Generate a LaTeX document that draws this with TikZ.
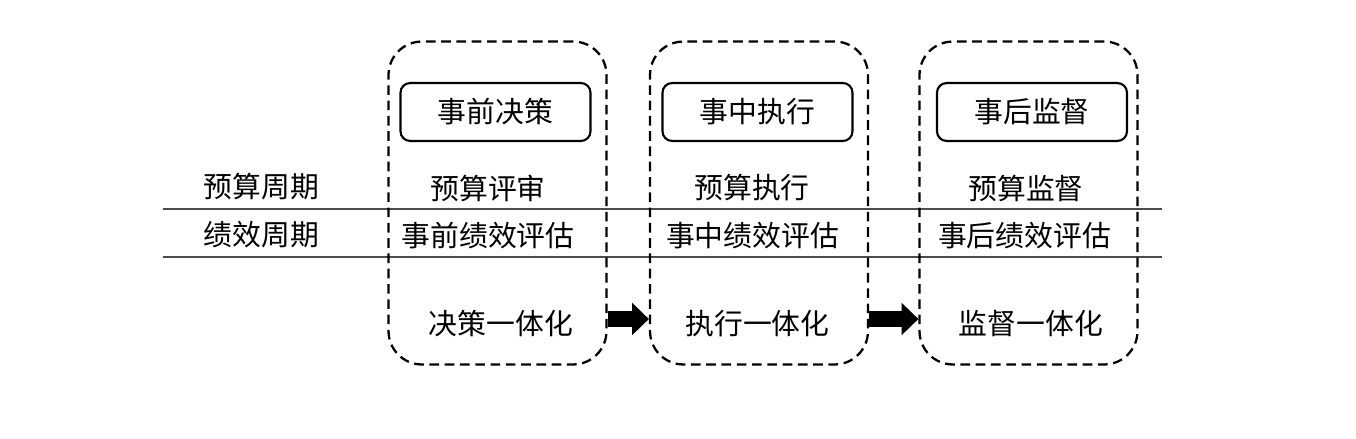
\documentclass[tikz,border=0pt]{standalone}
\usepackage{fontspec}
\newfontfamily\cjk{Noto Sans CJK SC}
\usetikzlibrary{arrows.meta}

\tikzset{
    txt/.style={font=\cjk\fontsize{16.4}{20}\selectfont, inner sep=0pt},
    stagebox/.style={draw, dash pattern=on 5.5pt off 3.2pt, line width=1.3pt,
        rounded corners=19pt, minimum width=4.36cm, minimum height=6.46cm},
    titlebox/.style={txt, draw, line width=1.2pt, rounded corners=5.5pt,
        minimum width=3.8cm, minimum height=1.16cm},
    bigarrow/.style={line width=9.6pt, -{Triangle[length=9.6pt, width=18pt]}}
}

\begin{document}
\begin{tikzpicture}[x=0.02cm, y=-0.02cm]
        \useasboundingbox (0,0) rectangle (1356,439);
        % the two cycles
        \draw[black!70, line width=1pt] (163,209) -- (1162,209);
        \draw[black!70, line width=1pt] (163,257) -- (1162,257);
        \node[txt] (ys) at (261.5,187) {预算周期};
        \node[txt] (jx) at (261.5,235) {绩效周期};
        % stages
        \node[stagebox] (k1) at (497.5,203) {};
        \node[stagebox] (k2) at (759,203) {};
        \node[stagebox] (k3) at (1028.5,203) {};
        \node[titlebox] (t1) at (495.5,112) {事前决策};
        \node[titlebox] (t2) at (757.5,112) {事中执行};
        \node[titlebox] (t3) at (1032,112) {事后监督};
        \node[txt] (y1) at (488,188) {预算评审};
        \node[txt] (y2) at (752,188) {预算执行};
        \node[txt] (y3) at (1026,188) {预算监督};
        \node[txt] (j1) at (488,236) {事前绩效评估};
        \node[txt] (j2) at (752.5,236) {事中绩效评估};
        \node[txt] (j3) at (1024.5,236) {事后绩效评估};
        \node[txt] (h1) at (501,324) {决策一体化};
        \node[txt] (h2) at (757.5,324) {执行一体化};
        \node[txt] (h3) at (1031,324) {监督一体化};
        % arrows between stages
        \coordinate (arow) at (0,319);
        \draw[bigarrow] (k1.east |- arow) -- (k2.west |- arow);
        \draw[bigarrow] (k2.east |- arow) -- (k3.west |- arow);
    \end{tikzpicture}
\end{document}
